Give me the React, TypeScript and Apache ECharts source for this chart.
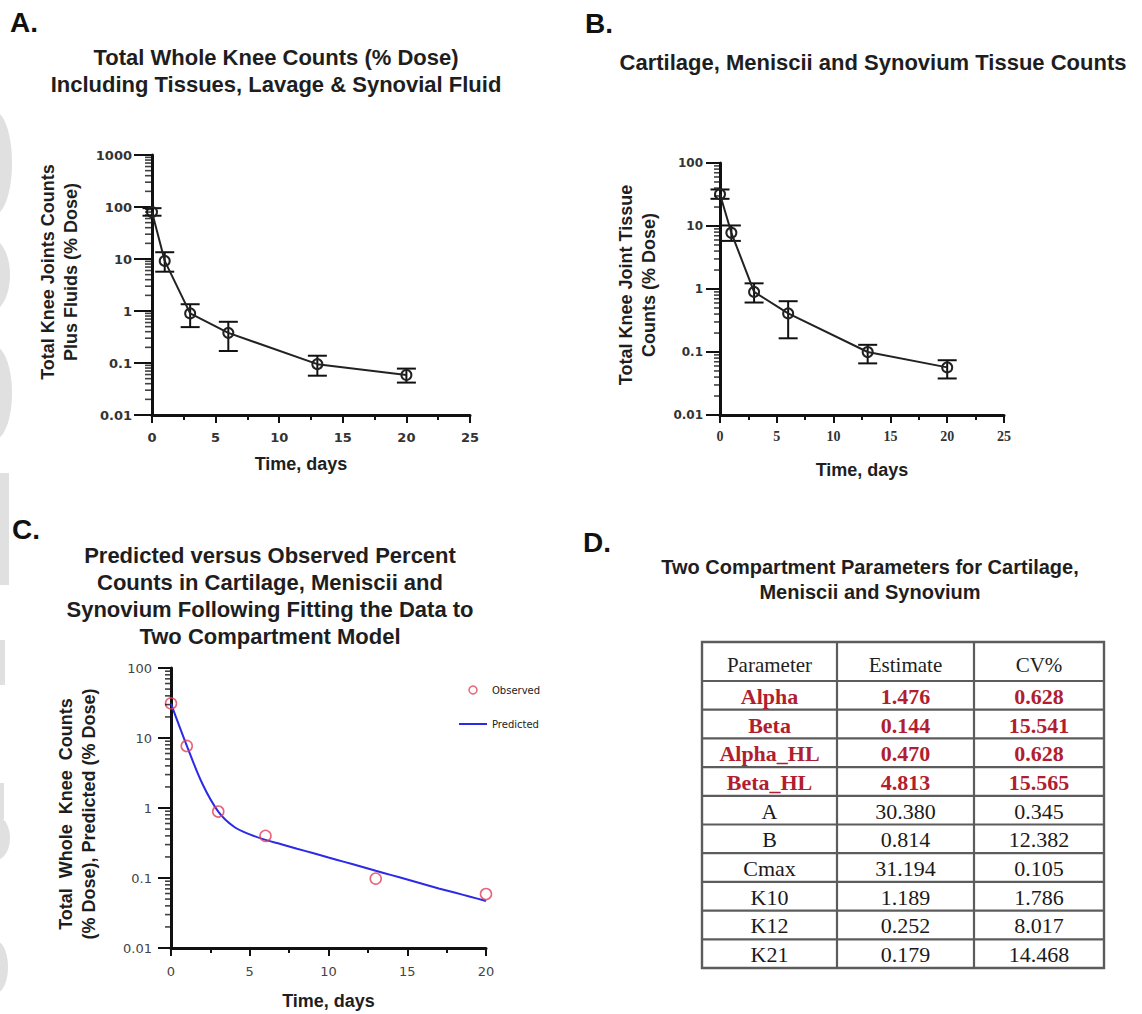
import React, { useEffect, useRef } from "react";
import * as echarts from "echarts";

// ---------- data ----------
const timeDays = [0, 1, 3, 6, 13, 20];

// Panel A: whole knee counts (% dose), mean and error bar limits
const wholeKneeMean = [80, 9.2, 0.9, 0.38, 0.095, 0.059];
const wholeKneeLow = [68, 5.7, 0.49, 0.17, 0.057, 0.042];
const wholeKneeHigh = [95, 13.5, 1.35, 0.62, 0.138, 0.078];

// Panel B: cartilage, meniscii and synovium tissue counts (% dose)
const tissueMean = [32, 7.8, 0.9, 0.41, 0.1, 0.057];
const tissueLow = [27, 5.8, 0.61, 0.165, 0.066, 0.038];
const tissueHigh = [38, 10.2, 1.23, 0.64, 0.13, 0.074];

// Panel C: observed vs predicted
const observedPct = [31.2, 7.7, 0.89, 0.4, 0.098, 0.059];
const predictedTime = [0, 1, 2, 3, 4, 5, 6, 7, 8, 9, 10, 11, 12, 13, 14, 15, 16, 17, 18, 19, 20];
const predictedPct = [31, 7.8, 2.2, 0.89, 0.54, 0.42, 0.35, 0.303, 0.262, 0.227, 0.196, 0.17, 0.147, 0.127, 0.11, 0.095, 0.082, 0.071, 0.062, 0.054, 0.047];

// Axis ranges / tick labels
const xTicksAB = [0, 5, 10, 15, 20, 25];
const xTicksC = [0, 5, 10, 15, 20];
const yTicksA = [0.01, 0.1, 1, 10, 100, 1000];
const yTicksBC = [0.01, 0.1, 1, 10, 100];
const minorMultipliers = [2, 3, 4, 5, 6, 7, 8, 9];

// Panel D table
const tableHeaders = ["Parameter", "Estimate", "CV%"];
const paramNames = ["Alpha", "Beta", "Alpha_HL", "Beta_HL", "A", "B", "Cmax", "K10", "K12", "K21"];
const paramEstimates = ["1.476", "0.144", "0.470", "4.813", "30.380", "0.814", "31.194", "1.189", "0.252", "0.179"];
const paramCV = ["0.628", "15.541", "0.628", "15.565", "0.345", "12.382", "0.105", "1.786", "8.017", "14.468"];
const highlightedRows = 4;

// ---------- helpers ----------
const SANS = "Liberation Sans";
const SERIF = "Liberation Serif";

function fmtLog(v: number) {
  if (v >= 1) return String(Math.round(v));
  return String(parseFloat(v.toPrecision(1)));
}

function minorValues(ticks: number[]) {
  const out: number[] = [];
  for (let i = 0; i < ticks.length - 1; i++) {
    minorMultipliers.forEach((m) => out.push(parseFloat((m * ticks[i]).toPrecision(3))));
  }
  return out;
}

function errorBarSeries(idx: number, low: number[], high: number[], capHalf: number) {
  return {
    type: "custom",
    xAxisIndex: idx,
    yAxisIndex: idx,
    silent: true,
    z: 3,
    encode: { x: 0, y: [1, 2] },
    data: timeDays.map((t, i) => [t, low[i], high[i]]),
    renderItem: (params: any, api: any) => {
      const x = api.value(0);
      const pLo = api.coord([x, api.value(1)]);
      const pHi = api.coord([x, api.value(2)]);
      const style = { stroke: "#111", lineWidth: 2 };
      return {
        type: "group",
        children: [
          { type: "line", shape: { x1: pLo[0], y1: pLo[1], x2: pHi[0], y2: pHi[1] }, style },
          { type: "line", shape: { x1: pLo[0] - capHalf, y1: pLo[1], x2: pLo[0] + capHalf, y2: pLo[1] }, style },
          { type: "line", shape: { x1: pHi[0] - capHalf, y1: pHi[1], x2: pHi[0] + capHalf, y2: pHi[1] }, style },
        ],
      };
    },
  };
}

// Log-axis minor ticks (2..9 per decade) as short dashes placed on the y scale
function minorTickSeries(idx: number, ticks: number[], len: number) {
  return {
    type: "scatter",
    xAxisIndex: idx,
    yAxisIndex: idx,
    silent: true,
    clip: false,
    z: 6,
    symbol: "rect",
    symbolSize: [len, 1.6],
    symbolOffset: [-len / 2 - 1, 0],
    itemStyle: { color: "#111" },
    data: minorValues(ticks).map((v) => [0, v]),
  };
}

function buildTable() {
  const colX = [702, 837, 974, 1104];
  const top = 642;
  const headerBottom = 681;
  const rowH = 28.7;
  const bottom = headerBottom + rowH * paramNames.length;
  const lineStyle = { stroke: "#5c5c5c", lineWidth: 2.2 };
  const els: any[] = [];
  els.push({ type: "rect", shape: { x: colX[0], y: top, width: colX[3] - colX[0], height: bottom - top }, style: { fill: "#fff", stroke: "#5c5c5c", lineWidth: 2.4 } });
  els.push({ type: "line", shape: { x1: colX[0], y1: headerBottom, x2: colX[3], y2: headerBottom }, style: lineStyle });
  for (let i = 1; i < paramNames.length; i++) {
    const y = headerBottom + rowH * i;
    els.push({ type: "line", shape: { x1: colX[0], y1: y, x2: colX[3], y2: y }, style: lineStyle });
  }
  for (let c = 1; c < 3; c++) {
    els.push({ type: "line", shape: { x1: colX[c], y1: top, x2: colX[c], y2: bottom }, style: lineStyle });
  }
  tableHeaders.forEach((h, c) => {
    els.push({
      type: "text",
      x: (colX[c] + colX[c + 1]) / 2,
      y: 665,
      style: { text: h, align: "center", verticalAlign: "middle", fontFamily: SERIF, fontSize: 21, fill: "#222" },
    });
  });
  paramNames.forEach((name, i) => {
    const red = i < highlightedRows;
    const cells = [name, paramEstimates[i], paramCV[i]];
    cells.forEach((txt, c) => {
      els.push({
        type: "text",
        x: (colX[c] + colX[c + 1]) / 2,
        y: headerBottom + rowH * i + rowH / 2 + 1,
        style: {
          text: txt,
          align: "center",
          verticalAlign: "middle",
          fontFamily: SERIF,
          fontSize: 22,
          fontWeight: red ? "bold" : "normal",
          fill: red ? "#b01e2f" : "#1a1a1a",
        },
      });
    });
  });
  return els;
}

function edgeDecor() {
  const fill = "#e0e0e0";
  return [
    { type: "ellipse", shape: { cx: -6, cy: 163, rx: 18, ry: 52 }, style: { fill } },
    { type: "ellipse", shape: { cx: -10, cy: 275, rx: 20, ry: 37 }, style: { fill } },
    { type: "ellipse", shape: { cx: -6, cy: 393, rx: 18, ry: 47 }, style: { fill } },
    { type: "rect", shape: { x: 0, y: 473, width: 9, height: 112 }, style: { fill } },
    { type: "rect", shape: { x: 0, y: 640, width: 5, height: 45 }, style: { fill } },
    { type: "rect", shape: { x: 0, y: 783, width: 4, height: 36 }, style: { fill } },
    { type: "ellipse", shape: { cx: -4, cy: 838, rx: 14, ry: 22 }, style: { fill } },
    { type: "ellipse", shape: { cx: -4, cy: 967, rx: 12, ry: 26 }, style: { fill } },
  ];
}

const letterStyle = { fontSize: 28, fontWeight: "bold", fontFamily: SANS, color: "#111" };
const titleStyle = { fontSize: 22, fontWeight: "bold", fontFamily: SANS, color: "#1e1e1e", lineHeight: 27 };
const axisNameStyle = { fontSize: 18, fontWeight: "bold", fontFamily: SANS, color: "#1e1e1e", lineHeight: 23 };

function makeX(idx: number, ticks: number[], labelStyle: any, nameStyle: any, nameGap: number) {
  return {
    type: "value",
    gridIndex: idx,
    min: ticks[0],
    max: ticks[ticks.length - 1],
    interval: ticks[1] - ticks[0],
    name: "Time, days",
    nameLocation: "middle",
    nameGap,
    nameTextStyle: nameStyle,
    axisLine: { show: true, onZero: false, lineStyle: { color: "#111", width: 3 } },
    axisTick: { show: true, length: 8, lineStyle: { color: "#111", width: 2 } },
    minorTick: { show: true, splitNumber: 2, length: 5, lineStyle: { color: "#111", width: 2 } },
    splitLine: { show: false },
    minorSplitLine: { show: false },
    axisLabel: { show: true, showMinLabel: true, showMaxLabel: true, ...labelStyle },
  };
}

function makeY(idx: number, ticks: number[], labelStyle: any, name: string, nameGap: number, namePadding: number[], tickLen: number) {
  return {
    type: "log",
    logBase: 10,
    gridIndex: idx,
    min: ticks[0],
    max: ticks[ticks.length - 1],
    name,
    nameLocation: "middle",
    nameRotate: 90,
    nameGap,
    nameTextStyle: { ...axisNameStyle, padding: namePadding },
    axisLine: { show: true, lineStyle: { color: "#111", width: 3 } },
    axisTick: { show: true, length: tickLen, lineStyle: { color: "#111", width: 2 } },
    minorTick: { show: false },
    splitLine: { show: false },
    minorSplitLine: { show: false },
    axisLabel: { show: true, showMinLabel: true, showMaxLabel: true, formatter: (v: number) => fmtLog(v), ...labelStyle },
  };
}

export default function App() {
  const ref = useRef<HTMLDivElement>(null);

  useEffect(() => {
    if (!ref.current) return;
    const chart = echarts.init(ref.current, null, { renderer: "svg" });

    const labelA = { fontFamily: "DejaVu Sans", fontWeight: "bold", fontSize: 13, color: "#333" };
    const labelBy = { fontFamily: "DejaVu Sans", fontWeight: "bold", fontSize: 12, color: "#333" };
    const labelBx = { fontFamily: SERIF, fontWeight: "bold", fontSize: 14, color: "#333" };
    const labelC = { fontFamily: "DejaVu Sans", fontWeight: "normal", fontSize: 13, color: "#444" };

    const blue = "#2a2ae8";
    const red = "#e0405a";

    const option: any = {
      animation: false,
      backgroundColor: "#ffffff",
      title: [
        { text: "A.", left: 10, top: 8, padding: 0, textStyle: letterStyle },
        { text: "B.", left: 585, top: 9, padding: 0, textStyle: letterStyle },
        { text: "C.", left: 12, top: 515, padding: 0, textStyle: letterStyle },
        { text: "D.", left: 583, top: 528, padding: 0, textStyle: letterStyle },
        {
          text: "Total Whole Knee Counts (% Dose)\nIncluding Tissues, Lavage & Synovial Fluid",
          left: 276, top: 44, padding: 0, textAlign: "center", textStyle: titleStyle,
        },
        {
          text: "Cartilage, Meniscii and Synovium Tissue Counts",
          left: 873, top: 49, padding: 0, textAlign: "center", textStyle: titleStyle,
        },
        {
          text: "Predicted versus Observed Percent\nCounts in Cartilage, Meniscii and\nSynovium Following Fitting the Data to\nTwo Compartment Model",
          left: 270, top: 542, padding: 0, textAlign: "center", textStyle: titleStyle,
        },
        {
          text: "Two Compartment Parameters for Cartilage,\nMeniscii and Synovium",
          left: 870, top: 554, padding: 0, textAlign: "center",
          textStyle: { ...titleStyle, fontSize: 20, lineHeight: 25 },
        },
      ],
      grid: [
        { left: 152, top: 155, width: 318, height: 260, containLabel: false },
        { left: 720, top: 163, width: 284, height: 252, containLabel: false },
        { left: 171, top: 668, width: 315, height: 280, containLabel: false },
      ],
      xAxis: [
        makeX(0, xTicksAB, { ...labelA, margin: 16 }, { ...axisNameStyle, padding: [0, 20, 0, 0] }, 37),
        makeX(1, xTicksAB, { ...labelBx, margin: 14 }, { ...axisNameStyle }, 43),
        makeX(2, xTicksC, { ...labelC, margin: 17 }, { ...axisNameStyle }, 41),
      ],
      yAxis: [
        makeY(0, yTicksA, { ...labelA, margin: 20 }, "Total Knee Joints Counts\nPlus Fluids (% Dose)", 70, [0, 0, 0, 26], 18),
        makeY(1, yTicksBC, { ...labelBy, margin: 17 }, "Total Knee Joint Tissue\nCounts (% Dose)", 60, [0, 0, 0, 8], 14),
        makeY(2, yTicksBC, { ...labelC, margin: 19 }, "Total  Whole  Knee  Counts\n(% Dose), Predicted (% Dose)", 71, [0, 12, 0, 0], 13),
      ],
      legend: {
        left: 453,
        top: 680,
        orient: "vertical",
        itemGap: 24,
        itemWidth: 28,
        itemHeight: 8,
        textStyle: { fontFamily: "DejaVu Sans", fontSize: 10, color: "#222" },
        data: [
          { name: "Observed", icon: "circle", itemStyle: { color: "#ffffff", borderColor: red, borderWidth: 1.5 } },
          { name: "Predicted", itemStyle: { opacity: 0 }, lineStyle: { color: blue, width: 2 } },
        ],
      },
      series: [
        minorTickSeries(0, yTicksA, 6),
        minorTickSeries(1, yTicksBC, 5),
        minorTickSeries(2, yTicksBC, 5),
        errorBarSeries(0, wholeKneeLow, wholeKneeHigh, 9.5),
        errorBarSeries(1, tissueLow, tissueHigh, 9.5),
        {
          type: "line",
          name: "Whole knee",
          xAxisIndex: 0,
          yAxisIndex: 0,
          z: 5,
          data: timeDays.map((t, i) => [t, wholeKneeMean[i]]),
          symbol: "circle",
          symbolSize: 10,
          lineStyle: { color: "#222", width: 2 },
          itemStyle: { color: "rgba(255,255,255,0)", borderColor: "#222", borderWidth: 2 },
        },
        {
          type: "line",
          name: "Tissue",
          xAxisIndex: 1,
          yAxisIndex: 1,
          z: 5,
          data: timeDays.map((t, i) => [t, tissueMean[i]]),
          symbol: "circle",
          symbolSize: 10,
          lineStyle: { color: "#222", width: 2 },
          itemStyle: { color: "rgba(255,255,255,0)", borderColor: "#222", borderWidth: 2 },
        },
        {
          type: "line",
          name: "Predicted",
          xAxisIndex: 2,
          yAxisIndex: 2,
          z: 4,
          smooth: 0.35,
          symbol: "none",
          showSymbol: false,
          data: predictedTime.map((t, i) => [t, predictedPct[i]]),
          lineStyle: { color: blue, width: 2 },
          itemStyle: { color: blue },
        },
        {
          type: "scatter",
          name: "Observed",
          xAxisIndex: 2,
          yAxisIndex: 2,
          z: 5,
          symbol: "circle",
          symbolSize: 11,
          data: timeDays.map((t, i) => [t, observedPct[i]]),
          itemStyle: { color: "rgba(255,255,255,0)", borderColor: red, borderWidth: 1.6 },
        },
      ],
      graphic: [...edgeDecor(), ...buildTable()],
    };

    chart.setOption(option);
    return () => chart.dispose();
  }, []);

  return (
    <div
      ref={ref}
      style={{ position: "absolute", left: 0, top: 0, width: 1142, height: 1014, background: "#fff" }}
    />
  );
}
